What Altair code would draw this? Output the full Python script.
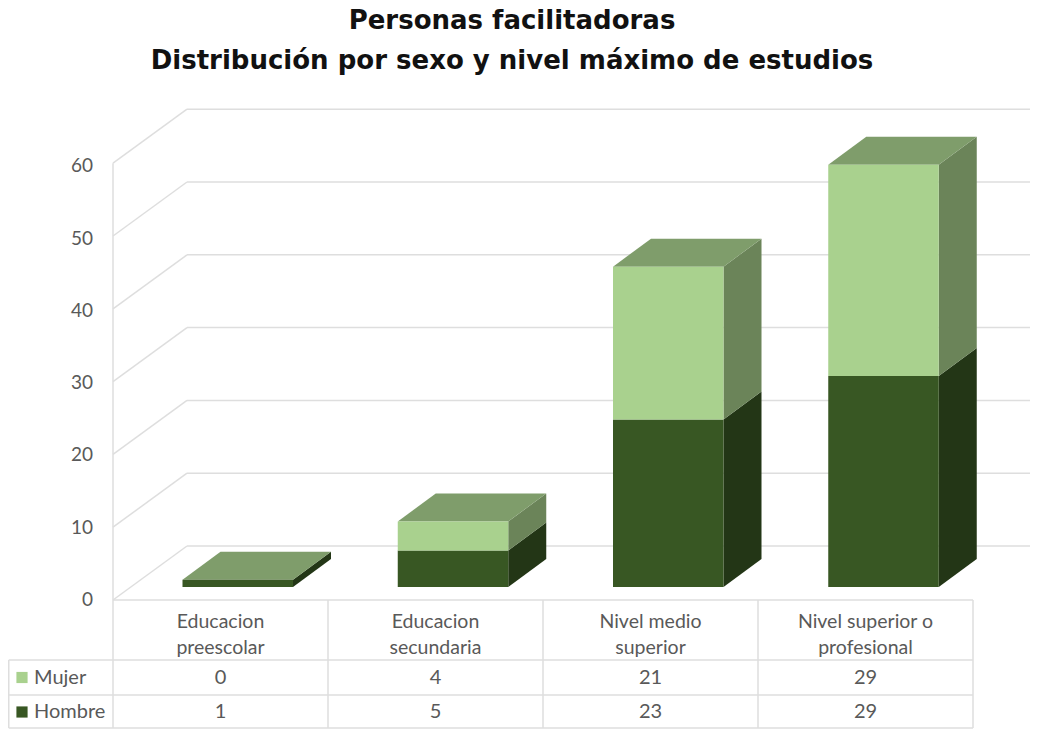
import altair as alt
import pandas as pd

title_lines = ["Personas facilitadoras", "Distribución por sexo y nivel máximo de estudios"]
categories = [["Educacion", "preescolar"], ["Educacion", "secundaria"],
              ["Nivel medio", "superior"], ["Nivel superior o", "profesional"]]
mujer = [0, 4, 21, 29]
hombre = [1, 5, 23, 29]
ticks = [0, 10, 20, 30, 40, 50, 60]

C_M = ("#A9D18E", "#6B8459", "#7F9D6B")   # front, side, top
C_H = ("#385723", "#233616", "#2C4A1B")
GRID = "#DEDEDE"
TXT = "#595959"
FONT = "Lato"

# layout: one scale for the whole picture, category widths on x, value units on y
W, H, TOP = 1022, 631, 90
CW = 215.25
PU = 7.28
def ux(p): return (p - 113) / CW
def uy(p): return (587 - p) / PU
XS = alt.Scale(domain=[ux(8), ux(8 + W)], range=[0, W], nice=False, zero=False)
YS = alt.Scale(domain=[uy(TOP + 8 + H), uy(TOP + 8)], range=[H, 0], nice=False, zero=False)
X = alt.X("x:Q", scale=XS, axis=None)
Y = alt.Y("y:Q", scale=YS, axis=None)

BL, BW = ux(182.5), 110.5 / CW          # first bar's left edge, bar width
DX, DY = 38 / CW, 28 / PU               # depth of the bars
FLOOR = uy(600)                         # front edge of the floor
WX, WY = 74 / CW, 54 / PU               # depth of the walls

# grid + table lines
lines = []
for t in ticks:
    lines.append(dict(x=ux(113), x2=ux(187), y=FLOOR + t, y2=FLOOR + t + WY))
    lines.append(dict(x=ux(187), x2=ux(1030), y=FLOOR + t + WY, y2=FLOOR + t + WY))
lines.append(dict(x=ux(113), x2=ux(113), y=FLOOR, y2=FLOOR + ticks[-1]))
for p, left in [(600, 113), (660, 8.75), (695, 8.75), (728, 8.75)]:
    lines.append(dict(x=ux(left), x2=ux(973), y=uy(p), y2=uy(p)))
for i in range(5):
    v = i * (973 - 113) / 4 / CW
    lines.append(dict(x=v, x2=v, y=uy(600), y2=uy(728)))
lines.append(dict(x=ux(8.75), x2=ux(8.75), y=uy(660), y2=uy(728)))
grid = alt.Chart(pd.DataFrame(lines)).mark_rule(color=GRID, strokeWidth=1.5).encode(
    x=X, x2="x2:Q", y=Y, y2="y2:Q")

fronts, sides, tops = [], [], []
for i, (h, m) in enumerate(zip(hombre, mujer)):
    xl = BL + i
    xr = xl + BW
    for name, lo, hi, c in [("H", 0, h, C_H), ("M", h, h + m, C_M)]:
        fronts.append(dict(x=xl, x2=xr, y=lo, y2=hi, c=c[0]))
        key = f"{name}{i}"
        sides.append(dict(k=key, x=xr, y=lo, y2=hi, c=c[1]))
        sides.append(dict(k=key, x=xr + DX, y=lo + DY, y2=hi + DY, c=c[1]))
    tops.append(dict(k=i, y=h + m, x=xl, x2=xr, c=C_M[2]))
    tops.append(dict(k=i, y=h + m + DY, x=xl + DX, x2=xr + DX, c=C_M[2]))

side = alt.Chart(pd.DataFrame(sides)).mark_area(orient="vertical").encode(
    x=X, y=Y, y2="y2:Q", detail="k:N", color=alt.Color("c:N", scale=None))
top = alt.Chart(pd.DataFrame(tops)).mark_area(orient="horizontal").encode(
    y=Y, x=X, x2="x2:Q", detail="k:N", color=alt.Color("c:N", scale=None))
front = alt.Chart(pd.DataFrame(fronts)).mark_rect().encode(
    x=X, x2="x2:Q", y=Y, y2="y2:Q", color=alt.Color("c:N", scale=None))

def text_layer(rows, align, size=20, **kw):
    return alt.Chart(pd.DataFrame(rows)).mark_text(
        align=align, baseline="middle", font=FONT, fontSize=size, color=TXT, **kw
    ).encode(x=X, y=Y, text="t:N")

ytext = text_layer([dict(x=ux(93), y=uy(600) + t * 0.993, t=str(t)) for t in ticks], "right", 19)
cols = [(i + 0.5) * (973 - 113) / 4 / CW for i in range(4)]
cattext = text_layer([dict(x=x, y=uy(622), t=c) for x, c in zip(cols, categories)],
                     "center", 19.5, lineHeight=26)
rowtext = text_layer(
    [dict(x=x, y=uy(677.5), t=str(v)) for x, v in zip(cols, mujer)] +
    [dict(x=x, y=uy(712), t=str(v)) for x, v in zip(cols, hombre)], "center", 20)
legtext = text_layer([dict(x=ux(34), y=uy(677.5), t="Mujer"), dict(x=ux(34), y=uy(712), t="Hombre")], "left", 20)
keys = alt.Chart(pd.DataFrame([
    dict(x=ux(22), y=uy(677.5), c=C_M[0]), dict(x=ux(22), y=uy(712), c=C_H[0])
])).mark_point(shape="square", filled=True, size=125, opacity=1).encode(
    x=X, y=Y, color=alt.Color("c:N", scale=None))

chart = alt.layer(grid, side, top, front, ytext, cattext, rowtext, legtext, keys).properties(
    width=W, height=H,
    padding=dict(left=0, top=TOP, right=0, bottom=0),
    autosize=alt.AutoSizeParams(type="none"),
    title=alt.TitleParams(text=title_lines, font="DejaVu Sans", fontWeight="bold", fontSize=26,
                          color="#111111", anchor="middle", dx=-7, offset=24, lineHeight=40),
).configure_view(stroke=None)

chart.save("out.html", embed_options={"renderer": "svg", "actions": False})
